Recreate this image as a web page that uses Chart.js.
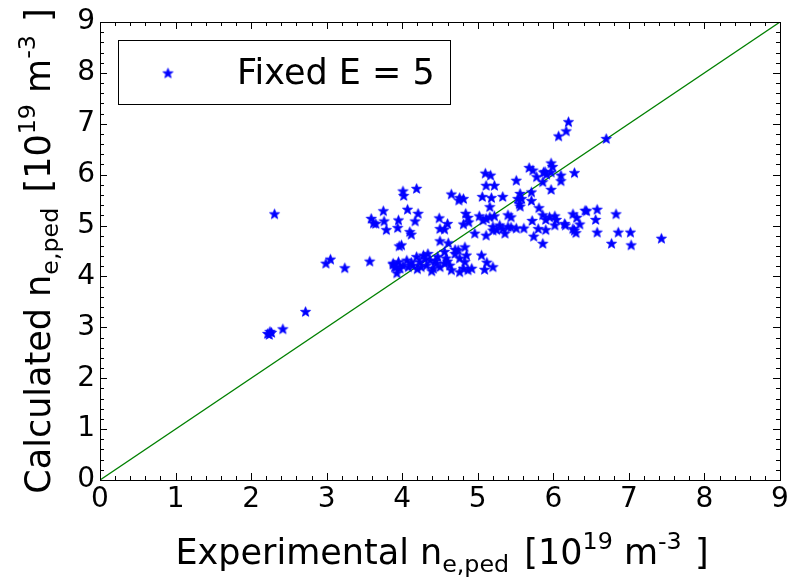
<!DOCTYPE html>
<html>
<head>
<meta charset="utf-8">
<script src="https://cdn.jsdelivr.net/npm/chart.js@4"></script>
<style>
  html, body { margin: 0; padding: 0; background: #fff; }
  #wrap { width: 793px; height: 585px; }
</style>
</head>
<body>
<div id="wrap"><canvas id="pedChart" width="793" height="585"></canvas></div>
<script>
// experimental vs calculated pedestal density, 10^19 m^-3
const expX = [
    2.22, 2.25, 2.24, 2.27, 2.42, 2.72, 2.31, 2.99, 3.05, 3.24, 3.57,
    3.59, 3.62, 3.65, 3.75, 3.76, 3.79, 3.95, 3.94, 3.96,
    3.88, 3.92, 3.93, 3.88, 3.95, 3.90, 3.97, 4.01, 4.06, 4.08, 4.14, 4.19, 4.23, 4.28, 4.25,
    4.34, 4.37, 4.32, 4.41, 4.39, 4.45, 4.47, 4.50, 4.56, 4.58, 4.56, 4.63, 4.65, 4.70, 4.74,
    4.76, 4.81, 4.83, 4.85, 4.87, 4.92, 4.76, 4.30, 4.12, 4.44, 4.20, 4.60,
    3.99, 4.12, 4.10, 4.50, 4.61, 4.83, 4.70, 5.05, 5.12, 5.20, 5.09,
    4.01, 4.02, 4.19, 4.07, 4.21, 4.17,
    4.49, 4.50, 4.56, 4.60, 4.65, 4.76, 4.81, 4.75,
    4.84, 4.87, 4.88, 4.81, 5.02, 5.07, 5.11, 5.16, 5.22,
    5.10, 5.17, 5.11, 5.22, 5.06, 5.18, 5.33, 5.16,
    5.20, 5.29, 5.33, 5.40, 5.44, 5.51, 5.61, 5.40, 5.44,
    5.36, 4.96, 5.11, 5.20, 5.25,
    5.51, 5.56, 5.53, 5.58, 5.55, 5.71, 5.71, 5.56, 5.81, 5.86, 5.97,
    5.68, 5.73, 5.87, 5.91, 5.78, 5.97, 5.89, 6.10, 6.10, 6.28, 5.97, 5.99,
    6.07, 6.17, 6.20, 6.70,
    5.86, 5.90, 5.95, 6.02, 6.04, 5.72, 5.80, 5.90, 6.02, 6.15, 5.74, 5.86,
    6.26, 6.31, 6.42, 6.44, 6.58, 6.56, 6.83,
    6.16, 6.35, 6.26, 6.30, 6.28, 6.58, 6.86, 7.02, 6.77, 7.03, 7.43
];
const calcY = [
    2.88, 2.92, 2.86, 2.90, 2.97, 3.31, 5.23, 4.26, 4.34, 4.17, 4.30,
    5.14, 5.05, 5.04, 5.29, 5.09, 4.92, 5.11, 4.96, 4.60,
    4.24, 4.19, 4.07, 4.26, 4.29, 4.19, 4.16, 4.22, 4.32, 4.19, 4.22, 4.39, 4.29, 4.42, 4.19,
    4.45, 4.32, 4.22, 4.16, 4.11, 4.26, 4.39, 4.19, 4.49, 4.36, 4.26, 4.22, 4.13, 4.45, 4.52,
    4.36, 4.16, 4.29, 4.42, 4.13, 4.16, 4.09, 4.35, 4.28, 4.31, 4.15, 4.30,
    4.62, 4.83, 4.88, 4.70, 4.66, 4.58, 4.53, 4.42, 4.28, 4.19, 4.14,
    5.68, 5.59, 5.73, 5.32, 5.24, 5.09,
    5.15, 4.94, 4.93, 5.04, 5.62, 5.55, 5.53, 5.50,
    5.24, 5.16, 5.07, 5.03, 5.19, 5.11, 5.14, 5.17, 5.19,
    6.03, 5.99, 5.79, 5.79, 5.57, 5.55, 5.57, 5.37,
    4.98, 5.01, 4.94, 4.98, 4.97, 4.95, 4.95, 5.21, 5.17,
    4.85, 4.85, 4.81, 4.91, 4.92,
    5.89, 5.63, 5.53, 5.53, 5.43, 5.66, 5.49, 5.38, 5.35, 5.86, 5.71,
    6.14, 6.09, 6.05, 6.01, 5.96, 6.05, 6.06, 5.99, 5.88, 6.04, 6.23, 6.16,
    6.76, 6.86, 7.04, 6.71,
    5.21, 5.12, 5.17, 5.19, 5.12, 5.10, 4.94, 4.92, 5.01, 5.04, 4.79, 4.65,
    5.23, 5.16, 5.30, 5.29, 5.32, 5.12, 5.23,
    5.01, 5.03, 4.94, 4.86, 4.91, 4.87, 4.87, 4.87, 4.65, 4.62, 4.75
];
const diagX = [0, 9];
const diagY = [0, 9];
const seriesLabel = "Fixed E = 5";

const FONT = "'DejaVu Sans', sans-serif";

function makeStar(r, color) {
    const size = Math.ceil(r * 2) + 2;
    const c = document.createElement("canvas");
    c.width = size;
    c.height = size;
    const g = c.getContext("2d");
    g.fillStyle = color;
    g.strokeStyle = color;
    g.lineWidth = 0.8;
    g.beginPath();
    for (let i = 0; i < 10; i++) {
        const rad = i % 2 ? r * 0.42 : r;
        const a = -Math.PI / 2 + (i * Math.PI) / 5;
        const px = size / 2 + rad * Math.cos(a);
        const py = size / 2 + 0.5 + rad * Math.sin(a);
        if (i === 0) g.moveTo(px, py);
        else g.lineTo(px, py);
    }
    g.closePath();
    g.fill();
    g.stroke();
    return c;
}

const star = makeStar(5.3, "#0000ff");

// text with sub/superscripts, centred on x=0, baseline y=0
function drawRich(ctx, parts, size) {
    const small = size * 0.68;
    let total = 0;
    parts.forEach((p) => {
        ctx.font = (p.k === "n" ? size : small) + "px " + FONT;
        p.w = ctx.measureText(p.t).width + (p.gap || 0);
        total += p.w;
    });
    let x = -total / 2;
    ctx.textAlign = "left";
    ctx.textBaseline = "alphabetic";
    parts.forEach((p) => {
        ctx.font = (p.k === "n" ? size : small) + "px " + FONT;
        let dy = 0;
        if (p.k === "sub") dy = size * 0.22;
        if (p.k === "sup") dy = -size * 0.42;
        ctx.fillText(p.t, x + (p.gap || 0), dy);
        x += p.w;
    });
}

function titleParts(word) {
    return [
        { t: word + " n", k: "n" },
        { t: "e,ped", k: "sub" },
        { t: " [10", k: "n", gap: 4 },
        { t: "19", k: "sup" },
        { t: " m", k: "n" },
        { t: "-3", k: "sup" },
        { t: " ]", k: "n", gap: 2 },
    ];
}

const framePlugin = {
    id: "frame",
    afterDraw(chart) {
        const { ctx, chartArea: a, scales } = chart;
        ctx.save();
        ctx.strokeStyle = "#000";
        ctx.lineWidth = 1;
        // ticks, inward on all four sides
        ctx.beginPath();
        for (let v = 0; v <= 9.0001; v += 0.2) {
            const major = Math.abs(v - Math.round(v)) < 1e-6;
            const len = major ? 7 : 4;
            const px = Math.round(scales.x.getPixelForValue(v)) + 0.5;
            const py = Math.round(scales.y.getPixelForValue(v)) + 0.5;
            ctx.moveTo(px, a.bottom); ctx.lineTo(px, a.bottom - len);
            ctx.moveTo(px, a.top); ctx.lineTo(px, a.top + len);
            ctx.moveTo(a.left, py); ctx.lineTo(a.left + len, py);
            ctx.moveTo(a.right, py); ctx.lineTo(a.right - len, py);
        }
        ctx.stroke();
        ctx.strokeRect(Math.round(a.left) + 0.5, Math.round(a.top) + 0.5,
            Math.round(a.right - a.left), Math.round(a.bottom - a.top));

        // legend
        ctx.fillStyle = "#fff";
        ctx.fillRect(118.5, 40.5, 332, 64);
        ctx.strokeRect(118.5, 40.5, 332, 64);
        ctx.drawImage(star, 168 - star.width / 2, 73 - star.height / 2);
        ctx.fillStyle = "#000";
        ctx.font = "35px " + FONT;
        ctx.textAlign = "left";
        ctx.textBaseline = "alphabetic";
        ctx.fillText(seriesLabel, 237, 84);

        // axis titles
        ctx.save();
        ctx.translate(442, 564);
        drawRich(ctx, titleParts("Experimental"), 35);
        ctx.restore();

        ctx.save();
        ctx.translate(50, (a.top + a.bottom) / 2);
        ctx.rotate(-Math.PI / 2);
        drawRich(ctx, titleParts("Calculated"), 35);
        ctx.restore();
        ctx.restore();
    },
};

const ctx = document.getElementById("pedChart");

const data = {
    datasets: [
        {
            label: seriesLabel,
            data: expX.map((x, i) => ({ x, y: calcY[i] })),
            pointStyle: star,
            pointRadius: 5.5,
            showLine: false,
        },
        {
            label: "y = x",
            data: diagX.map((x, i) => ({ x, y: diagY[i] })),
            showLine: true,
            borderColor: "#008000",
            borderWidth: 1.3,
            pointRadius: 0,
            fill: false,
        },
    ],
};

const tickFont = { family: FONT, size: 28 };

const config = {
    type: "scatter",
    data,
    options: {
        responsive: false,
        animation: false,
        events: [],
        layout: { padding: { top: 22, right: 13, left: 0, bottom: 0 } },
        plugins: { legend: { display: false }, tooltip: { enabled: false } },
        scales: {
            x: {
                min: 0,
                max: 9,
                ticks: { stepSize: 1, font: tickFont, color: "#000", padding: 3, maxRotation: 0 },
                grid: { display: false, drawTicks: false },
                border: { display: false },
                afterFit: (scale) => { scale.height = 105; },
            },
            y: {
                min: 0,
                max: 9,
                ticks: { stepSize: 1, font: tickFont, color: "#000", padding: 5 },
                grid: { display: false, drawTicks: false },
                border: { display: false },
                afterFit: (scale) => { scale.width = 100; },
            },
        },
    },
    plugins: [framePlugin],
};

new Chart(ctx, config);
</script>
</body>
</html>
